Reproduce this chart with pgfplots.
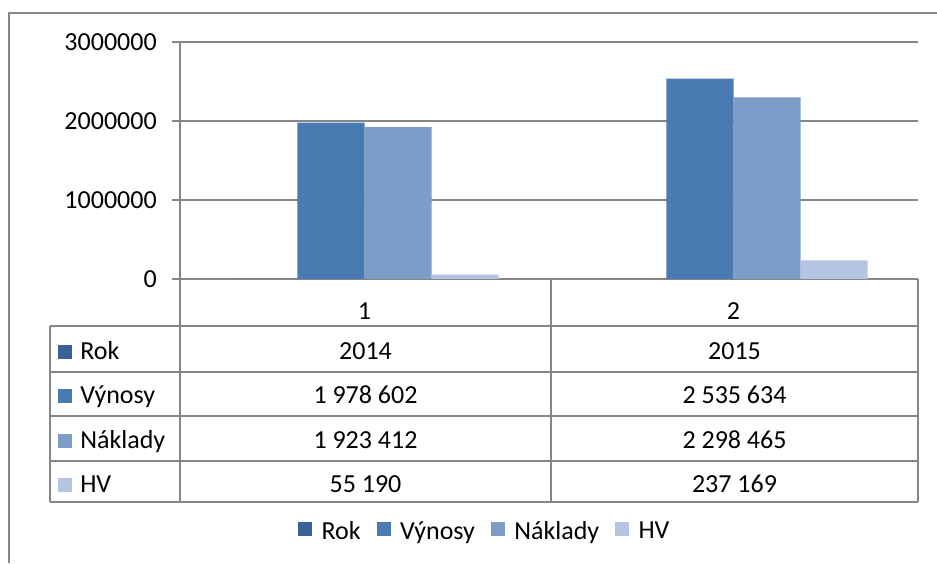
\documentclass[border=0pt]{standalone}
\usepackage{fontspec}
\setmainfont{Carlito}
\usepackage{pgfplots}
\pgfplotsset{compat=1.18}
\definecolor{rok}{RGB}{59,98,150}
\definecolor{vyn}{RGB}{74,122,178}
\definecolor{nak}{RGB}{126,156,200}
\definecolor{hv}{RGB}{181,197,225}
\definecolor{gridc}{RGB}{134,134,134}
\newcommand{\tf}{\fontsize{19.5pt}{23pt}\selectfont}
\begin{document}
\begin{tikzpicture}
\fill[white] (0,0) rectangle (702.75pt,422.25pt);
\begin{axis}[
  at={(135pt,213pt)}, anchor=south west,
  scale only axis, width=553.5pt, height=177.75pt,
  xmin=0.5, xmax=2.5, ymin=0, ymax=3000000,
  ybar=0pt, bar width=0.1816,
  axis lines*=left,
  axis line style={draw=gridc, line width=1.2pt},
  xtick={1,2}, xticklabels={1,2},
  x tick style={draw=none},
  xticklabel style={anchor=base, inner sep=0pt, yshift=-24pt},
  ytick={0,1000000,2000000,3000000},
  yticklabels={0,1000000,2000000,3000000},
  scaled y ticks=false,
  ymajorgrids,
  grid style={draw=gridc, line width=1.2pt},
  y tick style={draw=gridc, line width=1.2pt},
  tick align=outside, major tick length=6pt,
  yticklabel style={anchor=east, inner sep=0pt, xshift=-11.25pt},
  ticklabel style={font=\tf},
  /pgf/number format/assume math mode=true,
  clip=false,
  legend columns=-1,
  legend image code/.code={\fill[#1] (0pt,-3.5pt) rectangle (10.5pt,7pt);},
  legend style={at={(0.1599,-1.064)}, anchor=west, draw=none, fill=none,
    inner sep=0pt, font=\tf,
    /tikz/every odd column/.append style={column sep=5pt},
    /tikz/every even column/.append style={column sep=10pt}},
]
\addplot[fill=rok, draw=none] coordinates {(1,2014) (2,2015)};
\addplot[fill=vyn, draw=none] coordinates {(1,1978602) (2,2535634)};
\addplot[fill=nak, draw=none] coordinates {(1,1923412) (2,2298465)};
\addplot[fill=hv, draw=none] coordinates {(1,55190) (2,237169)};
\legend{Rok, Výnosy, Náklady, HV}
\end{axis}
\begin{scope}[x=0.75pt, y=0.75pt]
  % outer frame
  \draw[gridc, line width=1.5pt] (9,0) -- (9,550) -- (937,550);
  % table grid
  \begin{scope}[gridc, line width=1.2pt]
    \draw (180,284) -- (180,61);
    \draw (551,284) -- (551,61);
    \draw (918,284) -- (918,61);
    \draw (50,237) -- (50,61);
    \foreach \yy in {237,191,147,102,61} { \draw (50,\yy) -- (918,\yy); }
  \end{scope}
  % row labels with keys
  \fill[rok] (58,204) rectangle (72,218);
  \fill[vyn] (58,160) rectangle (72,174);
  \fill[nak] (58,115) rectangle (72,129);
  \fill[hv]  (58,71)  rectangle (72,85);
  \begin{scope}[every node/.style={font=\tf, inner sep=0pt}]
    \node[anchor=base west] at (80,203) {Rok};
    \node[anchor=base west] at (80,159) {Výnosy};
    \node[anchor=base west] at (80,114) {Náklady};
    \node[anchor=base west] at (80,70)  {HV};
    \node[anchor=base] at (365.5,203) {2014};
    \node[anchor=base] at (734.5,203) {2015};
    \node[anchor=base] at (365.5,159) {1~978~602};
    \node[anchor=base] at (734.5,159) {2~535~634};
    \node[anchor=base] at (365.5,114) {1~923~412};
    \node[anchor=base] at (734.5,114) {2~298~465};
    \node[anchor=base] at (365.5,70)  {55~190};
    \node[anchor=base] at (734.5,70)  {237~169};
  \end{scope}
\end{scope}
\pgfresetboundingbox
\path[use as bounding box] (0,0) rectangle (702.75pt,422.25pt);
\end{tikzpicture}
\end{document}
